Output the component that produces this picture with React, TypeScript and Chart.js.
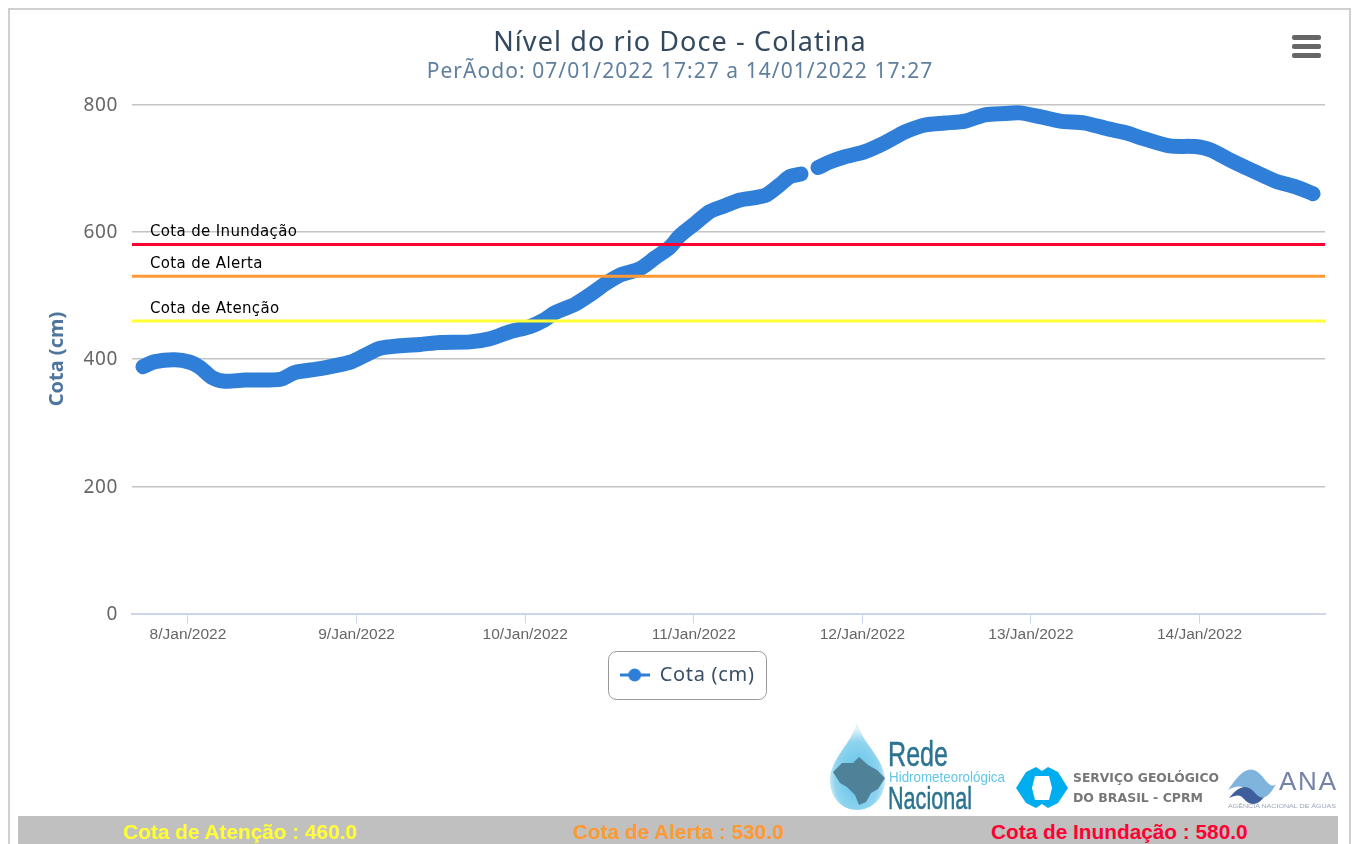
import React, { useEffect, useRef } from "react";
import { Chart, registerables } from "chart.js";

Chart.register(...registerables);

const TITLE = "Nível do rio Doce - Colatina";
const SUBTITLE = "PerÃodo: 07/01/2022 17:27 a 14/01/2022 17:27";
const SERIES_NAME = "Cota (cm)";
const MONTH_LABEL = "Jan/2022";

// x: day of January 2022 (fractional); y: level in cm; null marks the data gap
const days = [7.733, 7.804, 7.923, 8.012, 8.071, 8.142, 8.219, 8.338, 8.546, 8.635, 8.783, 8.961, 9.05, 9.139, 9.257, 9.376, 9.495, 9.673, 9.791, 9.91, 10.028, 10.117, 10.177, 10.295, 10.384, 10.473, 10.562, 10.681, 10.77, 10.859, 10.918, 11.007, 11.096, 11.185, 11.274, 11.422, 11.511, 11.571, 11.636, 11.68, 11.737, 11.808, 11.897, 12.015, 12.134, 12.253, 12.371, 12.49, 12.609, 12.727, 12.846, 12.935, 13.053, 13.172, 13.32, 13.439, 13.557, 13.676, 13.824, 13.973, 14.062, 14.18, 14.299, 14.448, 14.566, 14.673];
const levels = [388, 396, 399, 395, 387, 371, 365, 367, 368, 379, 385, 395, 406, 417, 421, 423, 426, 427, 432, 443, 451, 462, 473, 486, 501, 518, 532, 542, 559, 576, 594, 613, 632, 641, 650, 657, 674, 687, 691, null, 701, 710, 718, 726, 740, 757, 768, 771, 774, 784, 786, 787, 781, 774, 771, 763, 756, 746, 735, 734, 729, 713, 698, 680, 671, 660];

const thresholdNames = ["Cota de Atenção", "Cota de Alerta", "Cota de Inundação"];
const thresholdValues = [460, 530, 580];
const thresholdColors = ["#ffff33", "#ff9933", "#ff0033"];
const xRange = [7.668, 14.744];
const yTicks = [0, 200, 400, 600, 800];

function legendGlyph() {
  const c = document.createElement("canvas");
  c.width = 30;
  c.height = 14;
  const g = c.getContext("2d")!;
  g.fillStyle = "#2f7ed8";
  g.fillRect(0, 5.5, 30, 3);
  g.beginPath();
  g.arc(15, 7, 6.5, 0, Math.PI * 2);
  g.fill();
  return c;
}

function spaced(obj: any, method: string, spacing: string, dy = 0) {
  if (obj.__spaced && obj.__spaced[method]) return;
  const orig = obj[method];
  obj.__spaced = { ...(obj.__spaced || {}), [method]: true };
  obj[method] = function (...args: any[]) {
    const ctx = this.ctx;
    const prev = ctx.letterSpacing;
    ctx.letterSpacing = spacing;
    ctx.translate(0, dy);
    const r = orig.apply(this, args);
    ctx.translate(0, -dy);
    ctx.letterSpacing = prev;
    return r;
  };
}

const frame: any = {
  id: "frame",
  afterLayout(chart: any) {
    const l = chart.legend;
    l.left = 597;
    l.right = 755;
    l.top = 642;
    l.bottom = 690;
    spaced(l, "draw", "0.7px");
    chart.boxes.forEach((b: any) => {
      const text = b.options && b.options.text;
      if (text === TITLE || text === SUBTITLE) {
        b.left = 0;
        b.right = chart.width;
        spaced(b, "draw", text === TITLE ? "1.1px" : "1.05px");
      }
    });
    spaced(chart.scales.y, "drawLabels", "0.6px", 1);
  },
  beforeDraw(chart: any) {
    const { ctx } = chart;
    ctx.save();
    ctx.strokeStyle = "#999999";
    ctx.lineWidth = 1;
    ctx.beginPath();
    ctx.roundRect(600.5, 643.5, 158, 48, 8);
    ctx.stroke();
    ctx.restore();
  },
  afterDatasetsDraw(chart: any) {
    const { ctx, scales } = chart;
    ctx.save();
    ctx.fillStyle = "#000000";
    ctx.font = '15px "DejaVu Sans"';
    ctx.letterSpacing = "0.35px";
    ctx.textBaseline = "middle";
    thresholdNames.forEach((name, i) => {
      ctx.fillText(name, 142, scales.y.getPixelForValue(thresholdValues[i]) - 12);
    });
    ctx.restore();
  },
};

function Logos() {
  return (
    <svg width={530} height={100} viewBox="820 720 530 100" style={{ position: "absolute", left: 820, top: 720 }}>
      <defs>
        <radialGradient id="drop" cx="50%" cy="62%" r="55%">
          <stop offset="0%" stopColor="#58bfe8" />
          <stop offset="75%" stopColor="#8fd4ef" />
          <stop offset="100%" stopColor="#e2f3fa" />
        </radialGradient>
      </defs>
      <path d="M857 723 C864 745 885 760 885 780 C885 798 872 810 857 810 C842 810 830 798 830 780 C830 760 850 745 857 723 Z" fill="url(#drop)" />
      <path d="M833 772 L842 763 L853 763 L859 757 L868 765 L877 770 L885 778 L878 789 L871 793 L866 802 L859 805 L855 795 L847 787 L840 783 Z" fill="#4f8298" />
      <text x={888} y={766} fontFamily="Liberation Sans" fontSize={35} fill="#2c7391" stroke="#2c7391" strokeWidth={0.5} textLength={60} lengthAdjust="spacingAndGlyphs">Rede</text>
      <text x={889} y={782} fontFamily="Liberation Sans" fontSize={15} fill="#63c7ea" textLength={116} lengthAdjust="spacingAndGlyphs">Hidrometeorológica</text>
      <text x={888} y={809} fontFamily="Liberation Sans" fontSize={31} fill="#2c7391" stroke="#2c7391" strokeWidth={0.5} textLength={84} lengthAdjust="spacingAndGlyphs">Nacional</text>
      <path d="M1016 788 L1026 772 L1036 767 L1042 771 L1048 767 L1058 772 L1068 788 L1058 803 L1048 808 L1042 804 L1036 808 L1026 803 Z" fill="#00aeef" />
      <path d="M1035 776 L1049 776 L1052 788 L1049 800 L1035 800 L1032 788 Z" fill="#ffffff" />
      <text x={1073} y={782} fontFamily="DejaVu Sans" fontWeight="bold" fontSize={12} fill="#777777" textLength={146} lengthAdjust="spacingAndGlyphs">SERVIÇO GEOLÓGICO</text>
      <text x={1073} y={802} fontFamily="DejaVu Sans" fontWeight="bold" fontSize={12} fill="#777777" textLength={130} lengthAdjust="spacingAndGlyphs">DO BRASIL - CPRM</text>
      <path d="M1228 790 C1240 772 1250 762 1262 776 C1268 784 1272 788 1276 784 C1268 800 1258 802 1250 792 C1242 784 1236 786 1228 790 Z" fill="#7fb4dc" />
      <path d="M1229 798 C1240 784 1248 784 1256 794 C1260 798 1262 798 1264 797 C1258 806 1250 806 1244 799 C1240 794 1236 795 1229 798 Z" fill="#3e5f9c" />
      <text x={1279} y={790} fontFamily="Liberation Sans" fontSize={26} fill="#7583a8" textLength={57} lengthAdjust="spacing">ANA</text>
      <text x={1228} y={808} fontFamily="Liberation Sans" fontSize={6} fill="#9aa3b5" textLength={108} lengthAdjust="spacingAndGlyphs">AGÊNCIA NACIONAL DE ÁGUAS</text>
    </svg>
  );
}

export default function App() {
  const ref = useRef<HTMLCanvasElement>(null);
  useEffect(() => {
    document.documentElement.style.overflow = "hidden";
    const glyph = legendGlyph();
    const chart = new Chart(ref.current!, {
      type: "line",
      data: {
        datasets: [
          {
            label: SERIES_NAME,
            data: days.map((d, i) => ({ x: d, y: levels[i] })),
            borderColor: "#2f7ed8",
            backgroundColor: "#2f7ed8",
            borderWidth: 15,
            pointRadius: 0,
            pointHoverRadius: 0,
            borderCapStyle: "round",
            borderJoinStyle: "round",
            tension: 0.25,
            spanGaps: false,
            order: 1,
          },
          ...thresholdNames.map((name, i) => ({
            label: name,
            data: xRange.map((x) => ({ x, y: thresholdValues[i] })),
            borderColor: thresholdColors[i],
            backgroundColor: thresholdColors[i],
            borderWidth: 3,
            pointRadius: 0,
            order: 0,
          })),
        ],
      } as any,
      plugins: [frame],
      options: {
        animation: false,
        responsive: false,
        layout: { padding: { top: 19, right: 27, bottom: 75.5, left: 0 } },
        plugins: {
          tooltip: { enabled: false },
          title: {
            display: true,
            text: TITLE,
            color: "#33495f",
            font: { family: "Noto Sans", size: 27, weight: "normal" },
            padding: { top: 0, bottom: 0 },
          },
          subtitle: {
            display: true,
            text: SUBTITLE,
            color: "#5f7f9e",
            font: { family: "Noto Sans", size: 21, weight: "normal" },
            padding: { top: 0, bottom: 20 },
          },
          legend: {
            position: "bottom",
            labels: {
              color: "#3a4f66",
              font: { family: "Noto Sans", size: 20 },
              padding: 15,
              usePointStyle: true,
              pointStyleWidth: 30,
              generateLabels: () => [
                { text: SERIES_NAME, pointStyle: glyph, fontColor: "#3a4f66", lineWidth: 0, strokeStyle: "transparent", fillStyle: "#2f7ed8", datasetIndex: 0 } as any,
              ],
            },
          },
        },
        scales: {
          x: {
            type: "linear",
            min: xRange[0],
            max: xRange[1],
            afterBuildTicks: (axis: any) => {
              axis.ticks = [8, 9, 10, 11, 12, 13, 14].map((value) => ({ value }));
            },
            afterFit: (axis: any) => {
              axis.height = 34;
            },
            grid: { display: true, drawOnChartArea: false, color: "#ccd6eb", tickLength: 10 },
            border: { color: "#ccd6eb", width: 2 },
            ticks: {
              color: "#666666",
              maxRotation: 0,
              autoSkip: false,
              padding: 2,
              font: { family: "Liberation Sans", size: 15.5 },
              callback: (v: any) => `${v}/${MONTH_LABEL}`,
            },
          },
          y: {
            min: 0,
            max: 800,
            afterBuildTicks: (axis: any) => {
              axis.ticks = yTicks.map((value) => ({ value }));
            },
            afterFit: (axis: any) => {
              axis.width = 124;
            },
            grid: { color: "#c4c4c4", lineWidth: 1.5, drawTicks: false },
            border: { display: false },
            ticks: {
              color: "#666666",
              padding: 14,
              font: { family: "Noto Sans", size: 19 },
            },
            title: {
              display: true,
              text: SERIES_NAME,
              color: "#4d759e",
              padding: { top: 37, bottom: 0 },
              font: { family: "Noto Sans", size: 20, weight: "bold" },
            },
          },
        },
      },
    });
    return () => chart.destroy();
  }, []);

  const footer = thresholdNames.map((n, i) => `${n} : ${thresholdValues[i].toFixed(1)}`);
  const footerX = [123, 573, 991];
  return (
    <div style={{ position: "absolute", left: 0, top: 0, width: 1353, height: 844, overflow: "hidden", background: "#ffffff" }}>
      <div style={{ position: "absolute", left: 8, top: 8, width: 1343, height: 840, border: "2px solid #d0d0d0", boxSizing: "border-box" }} />
      <canvas ref={ref} width={1344} height={760} style={{ position: "absolute", left: 8, top: 8 }} />
      {[35, 44, 53].map((t) => (
        <div key={t} style={{ position: "absolute", left: 1292, top: t, width: 29, height: 5, borderRadius: 2, background: "#666666" }} />
      ))}
      <Logos />
      <div style={{ position: "absolute", left: 18, top: 816, width: 1320, height: 28, background: "#c0c0c0" }} />
      {footer.map((t, i) => (
        <div key={t} style={{ position: "absolute", left: footerX[i], top: 820, font: 'bold 20.8px "Liberation Sans"', color: thresholdColors[i], whiteSpace: "nowrap" }}>{t}</div>
      ))}
    </div>
  );
}
